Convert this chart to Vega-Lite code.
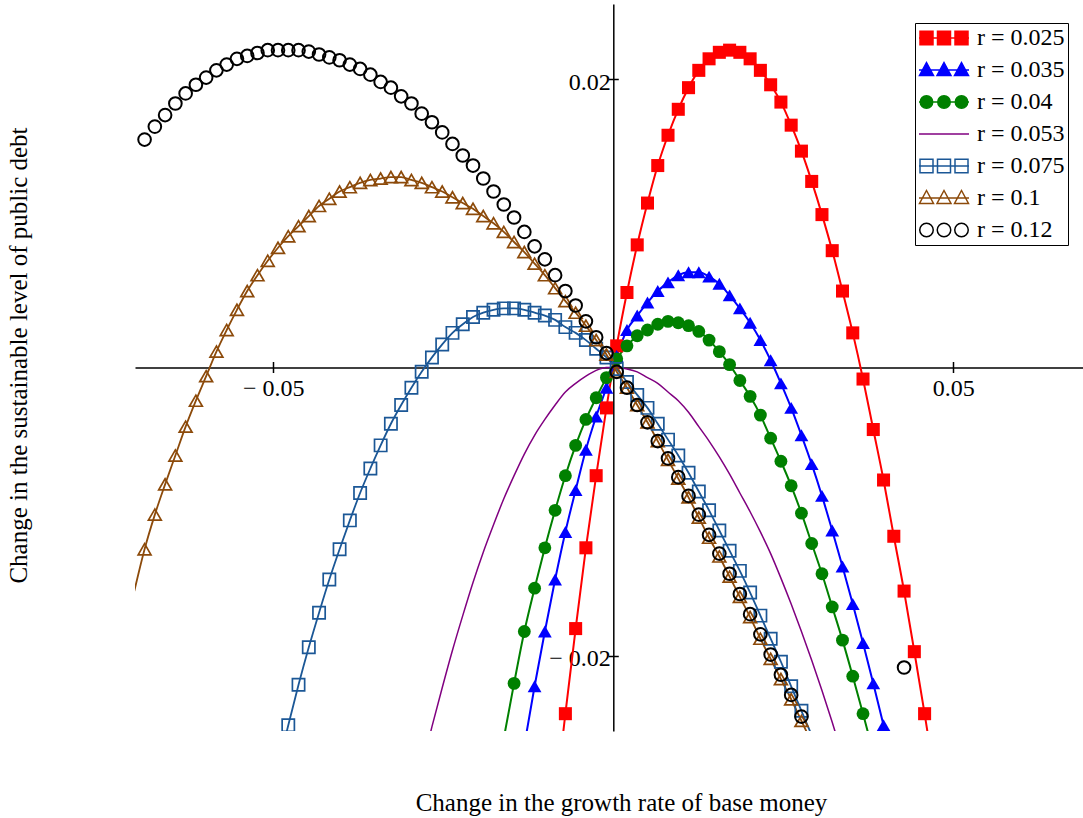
{
"$schema": "https://vega.github.io/schema/vega-lite/v6.json",
"width": 948, "height": 727,
"autosize": {"type": "none"},
"padding": {"left": 135, "top": 4, "right": 0, "bottom": 87},
"background": "white",
"config": {"view": {"stroke": null}, "font": "Liberation Serif"},
"resolve": {"axis": {"x": "independent", "y": "independent"}},
"data": {"values": [
{"r":"r = 0.025","x":-0.0085,"y":-0.0302},{"r":"r = 0.025","x":-0.007,"y":-0.024},{"r":"r = 0.025","x":-0.0055,"y":-0.0181},{"r":"r = 0.025","x":-0.004,"y":-0.0125},{"r":"r = 0.025","x":-0.0025,"y":-0.0075},{"r":"r = 0.025","x":-0.001,"y":-0.0028},{"r":"r = 0.025","x":0.0005,"y":0.0015},{"r":"r = 0.025","x":0.002,"y":0.0052},{"r":"r = 0.025","x":0.0035,"y":0.0085},{"r":"r = 0.025","x":0.005,"y":0.0114},{"r":"r = 0.025","x":0.0065,"y":0.014},{"r":"r = 0.025","x":0.008,"y":0.0161},{"r":"r = 0.025","x":0.0095,"y":0.0179},{"r":"r = 0.025","x":0.011,"y":0.0194},{"r":"r = 0.025","x":0.0125,"y":0.0206},{"r":"r = 0.025","x":0.014,"y":0.0214},{"r":"r = 0.025","x":0.0155,"y":0.02185},{"r":"r = 0.025","x":0.017,"y":0.022},{"r":"r = 0.025","x":0.0185,"y":0.02185},{"r":"r = 0.025","x":0.02,"y":0.0214},{"r":"r = 0.025","x":0.0215,"y":0.0206},{"r":"r = 0.025","x":0.023,"y":0.0196},{"r":"r = 0.025","x":0.0245,"y":0.0184},{"r":"r = 0.025","x":0.026,"y":0.0168},{"r":"r = 0.025","x":0.0275,"y":0.015},{"r":"r = 0.025","x":0.029,"y":0.0129},{"r":"r = 0.025","x":0.0305,"y":0.0106},{"r":"r = 0.025","x":0.032,"y":0.0081},{"r":"r = 0.025","x":0.0335,"y":0.0053},{"r":"r = 0.025","x":0.035,"y":0.0024},{"r":"r = 0.025","x":0.0365,"y":-0.0008},{"r":"r = 0.025","x":0.038,"y":-0.0043},{"r":"r = 0.025","x":0.0395,"y":-0.0078},{"r":"r = 0.025","x":0.041,"y":-0.0117},{"r":"r = 0.025","x":0.0425,"y":-0.0155},{"r":"r = 0.025","x":0.044,"y":-0.0197},{"r":"r = 0.025","x":0.0455,"y":-0.024},{"r":"r = 0.025","x":0.047,"y":-0.0285},
{"r":"r = 0.035","x":-0.013,"y":-0.0262},{"r":"r = 0.035","x":-0.0115,"y":-0.0221},{"r":"r = 0.035","x":-0.01,"y":-0.0183},{"r":"r = 0.035","x":-0.0085,"y":-0.0147},{"r":"r = 0.035","x":-0.007,"y":-0.0114},{"r":"r = 0.035","x":-0.0055,"y":-0.0085},{"r":"r = 0.035","x":-0.004,"y":-0.0057},{"r":"r = 0.035","x":-0.0025,"y":-0.0034},{"r":"r = 0.035","x":-0.001,"y":-0.0014},{"r":"r = 0.035","x":0.0005,"y":0.0008},{"r":"r = 0.035","x":0.002,"y":0.0026},{"r":"r = 0.035","x":0.0035,"y":0.0036},{"r":"r = 0.035","x":0.005,"y":0.0045},{"r":"r = 0.035","x":0.0065,"y":0.0053},{"r":"r = 0.035","x":0.008,"y":0.0059},{"r":"r = 0.035","x":0.0095,"y":0.0064},{"r":"r = 0.035","x":0.011,"y":0.0066},{"r":"r = 0.035","x":0.0125,"y":0.0066},{"r":"r = 0.035","x":0.014,"y":0.0063},{"r":"r = 0.035","x":0.0155,"y":0.0058},{"r":"r = 0.035","x":0.017,"y":0.005},{"r":"r = 0.035","x":0.0185,"y":0.0041},{"r":"r = 0.035","x":0.02,"y":0.0031},{"r":"r = 0.035","x":0.0215,"y":0.0019},{"r":"r = 0.035","x":0.023,"y":0.0005},{"r":"r = 0.035","x":0.0245,"y":-0.0011},{"r":"r = 0.035","x":0.026,"y":-0.0028},{"r":"r = 0.035","x":0.0275,"y":-0.0047},{"r":"r = 0.035","x":0.029,"y":-0.0067},{"r":"r = 0.035","x":0.0305,"y":-0.0089},{"r":"r = 0.035","x":0.032,"y":-0.0113},{"r":"r = 0.035","x":0.0335,"y":-0.0138},{"r":"r = 0.035","x":0.035,"y":-0.0164},{"r":"r = 0.035","x":0.0365,"y":-0.0191},{"r":"r = 0.035","x":0.038,"y":-0.0219},{"r":"r = 0.035","x":0.0395,"y":-0.0248},{"r":"r = 0.035","x":0.041,"y":-0.0278},
{"r":"r = 0.04","x":-0.016,"y":-0.0257},{"r":"r = 0.04","x":-0.0145,"y":-0.0219},{"r":"r = 0.04","x":-0.013,"y":-0.0183},{"r":"r = 0.04","x":-0.0115,"y":-0.0153},{"r":"r = 0.04","x":-0.01,"y":-0.0125},{"r":"r = 0.04","x":-0.0085,"y":-0.0099},{"r":"r = 0.04","x":-0.007,"y":-0.0075},{"r":"r = 0.04","x":-0.0055,"y":-0.0054},{"r":"r = 0.04","x":-0.004,"y":-0.0036},{"r":"r = 0.04","x":-0.0025,"y":-0.0021},{"r":"r = 0.04","x":-0.001,"y":-0.0007},{"r":"r = 0.04","x":0.0005,"y":0.0006},{"r":"r = 0.04","x":0.002,"y":0.0015},{"r":"r = 0.04","x":0.0035,"y":0.0022},{"r":"r = 0.04","x":0.005,"y":0.0026},{"r":"r = 0.04","x":0.0065,"y":0.003},{"r":"r = 0.04","x":0.008,"y":0.0032},{"r":"r = 0.04","x":0.0095,"y":0.0031},{"r":"r = 0.04","x":0.011,"y":0.0029},{"r":"r = 0.04","x":0.0125,"y":0.0025},{"r":"r = 0.04","x":0.014,"y":0.0019},{"r":"r = 0.04","x":0.0155,"y":0.0011},{"r":"r = 0.04","x":0.017,"y":0.0002},{"r":"r = 0.04","x":0.0185,"y":-0.0009},{"r":"r = 0.04","x":0.02,"y":-0.002},{"r":"r = 0.04","x":0.0215,"y":-0.0033},{"r":"r = 0.04","x":0.023,"y":-0.0049},{"r":"r = 0.04","x":0.0245,"y":-0.0065},{"r":"r = 0.04","x":0.026,"y":-0.0082},{"r":"r = 0.04","x":0.0275,"y":-0.0101},{"r":"r = 0.04","x":0.029,"y":-0.0122},{"r":"r = 0.04","x":0.0305,"y":-0.0143},{"r":"r = 0.04","x":0.032,"y":-0.0166},{"r":"r = 0.04","x":0.0335,"y":-0.0189},{"r":"r = 0.04","x":0.035,"y":-0.0214},{"r":"r = 0.04","x":0.0365,"y":-0.024},{"r":"r = 0.04","x":0.038,"y":-0.0267},
{"r":"r = 0.053","x":-0.028,"y":-0.0278},{"r":"r = 0.053","x":-0.0265,"y":-0.0249},{"r":"r = 0.053","x":-0.025,"y":-0.0222},{"r":"r = 0.053","x":-0.0235,"y":-0.0196},{"r":"r = 0.053","x":-0.022,"y":-0.0172},{"r":"r = 0.053","x":-0.0205,"y":-0.0149},{"r":"r = 0.053","x":-0.019,"y":-0.0128},{"r":"r = 0.053","x":-0.0175,"y":-0.0109},{"r":"r = 0.053","x":-0.016,"y":-0.0091},{"r":"r = 0.053","x":-0.0145,"y":-0.0075},{"r":"r = 0.053","x":-0.013,"y":-0.006},{"r":"r = 0.053","x":-0.0115,"y":-0.0047},{"r":"r = 0.053","x":-0.01,"y":-0.0036},{"r":"r = 0.053","x":-0.0085,"y":-0.0026},{"r":"r = 0.053","x":-0.007,"y":-0.0017},{"r":"r = 0.053","x":-0.0055,"y":-0.0011},{"r":"r = 0.053","x":-0.004,"y":-0.0006},{"r":"r = 0.053","x":-0.0025,"y":-0.0002},{"r":"r = 0.053","x":-0.001,"y":0.0},{"r":"r = 0.053","x":0.0005,"y":0.0},{"r":"r = 0.053","x":0.002,"y":-0.0001},{"r":"r = 0.053","x":0.0035,"y":-0.0003},{"r":"r = 0.053","x":0.005,"y":-0.0007},{"r":"r = 0.053","x":0.0065,"y":-0.0011},{"r":"r = 0.053","x":0.008,"y":-0.0017},{"r":"r = 0.053","x":0.0095,"y":-0.0023},{"r":"r = 0.053","x":0.011,"y":-0.0031},{"r":"r = 0.053","x":0.0125,"y":-0.0041},{"r":"r = 0.053","x":0.014,"y":-0.0051},{"r":"r = 0.053","x":0.0155,"y":-0.0062},{"r":"r = 0.053","x":0.017,"y":-0.0074},{"r":"r = 0.053","x":0.0185,"y":-0.0087},{"r":"r = 0.053","x":0.02,"y":-0.01},{"r":"r = 0.053","x":0.0215,"y":-0.0114},{"r":"r = 0.053","x":0.023,"y":-0.0129},{"r":"r = 0.053","x":0.0245,"y":-0.0146},{"r":"r = 0.053","x":0.026,"y":-0.0164},{"r":"r = 0.053","x":0.0275,"y":-0.0183},{"r":"r = 0.053","x":0.029,"y":-0.0203},{"r":"r = 0.053","x":0.0305,"y":-0.0224},{"r":"r = 0.053","x":0.032,"y":-0.0246},{"r":"r = 0.053","x":0.0335,"y":-0.0269},
{"r":"r = 0.075","x":-0.049,"y":-0.0277},{"r":"r = 0.075","x":-0.0475,"y":-0.0248},{"r":"r = 0.075","x":-0.046,"y":-0.022},{"r":"r = 0.075","x":-0.0445,"y":-0.0194},{"r":"r = 0.075","x":-0.043,"y":-0.017},{"r":"r = 0.075","x":-0.0415,"y":-0.0147},{"r":"r = 0.075","x":-0.04,"y":-0.0126},{"r":"r = 0.075","x":-0.0385,"y":-0.0106},{"r":"r = 0.075","x":-0.037,"y":-0.0087},{"r":"r = 0.075","x":-0.0355,"y":-0.007},{"r":"r = 0.075","x":-0.034,"y":-0.0054},{"r":"r = 0.075","x":-0.0325,"y":-0.0039},{"r":"r = 0.075","x":-0.031,"y":-0.0026},{"r":"r = 0.075","x":-0.0295,"y":-0.0014},{"r":"r = 0.075","x":-0.028,"y":-0.0003},{"r":"r = 0.075","x":-0.0265,"y":0.0007},{"r":"r = 0.075","x":-0.025,"y":0.0016},{"r":"r = 0.075","x":-0.0235,"y":0.0024},{"r":"r = 0.075","x":-0.022,"y":0.003},{"r":"r = 0.075","x":-0.0205,"y":0.0035},{"r":"r = 0.075","x":-0.019,"y":0.0038},{"r":"r = 0.075","x":-0.0175,"y":0.004},{"r":"r = 0.075","x":-0.016,"y":0.0041},{"r":"r = 0.075","x":-0.0145,"y":0.0041},{"r":"r = 0.075","x":-0.013,"y":0.004},{"r":"r = 0.075","x":-0.0115,"y":0.0038},{"r":"r = 0.075","x":-0.01,"y":0.0036},{"r":"r = 0.075","x":-0.0085,"y":0.0033},{"r":"r = 0.075","x":-0.007,"y":0.0028},{"r":"r = 0.075","x":-0.0055,"y":0.0024},{"r":"r = 0.075","x":-0.004,"y":0.0019},{"r":"r = 0.075","x":-0.0025,"y":0.0013},{"r":"r = 0.075","x":-0.001,"y":0.0007},{"r":"r = 0.075","x":0.0005,"y":-0.0001},{"r":"r = 0.075","x":0.002,"y":-0.001},{"r":"r = 0.075","x":0.0035,"y":-0.0019},{"r":"r = 0.075","x":0.005,"y":-0.0028},{"r":"r = 0.075","x":0.0065,"y":-0.0039},{"r":"r = 0.075","x":0.008,"y":-0.005},{"r":"r = 0.075","x":0.0095,"y":-0.0061},{"r":"r = 0.075","x":0.011,"y":-0.0073},{"r":"r = 0.075","x":0.0125,"y":-0.0086},{"r":"r = 0.075","x":0.014,"y":-0.0099},{"r":"r = 0.075","x":0.0155,"y":-0.0113},{"r":"r = 0.075","x":0.017,"y":-0.0127},{"r":"r = 0.075","x":0.0185,"y":-0.0141},{"r":"r = 0.075","x":0.02,"y":-0.0156},{"r":"r = 0.075","x":0.0215,"y":-0.0172},{"r":"r = 0.075","x":0.023,"y":-0.0188},{"r":"r = 0.075","x":0.0245,"y":-0.0204},{"r":"r = 0.075","x":0.026,"y":-0.0221},{"r":"r = 0.075","x":0.0275,"y":-0.0238},{"r":"r = 0.075","x":0.029,"y":-0.0255},
{"r":"r = 0.1","x":-0.07,"y":-0.0155},{"r":"r = 0.1","x":-0.0685,"y":-0.0126},{"r":"r = 0.1","x":-0.067,"y":-0.0102},{"r":"r = 0.1","x":-0.0655,"y":-0.0081},{"r":"r = 0.1","x":-0.064,"y":-0.0061},{"r":"r = 0.1","x":-0.0625,"y":-0.0041},{"r":"r = 0.1","x":-0.061,"y":-0.0023},{"r":"r = 0.1","x":-0.0595,"y":-0.0006},{"r":"r = 0.1","x":-0.058,"y":0.0011},{"r":"r = 0.1","x":-0.0565,"y":0.0026},{"r":"r = 0.1","x":-0.055,"y":0.004},{"r":"r = 0.1","x":-0.0535,"y":0.0053},{"r":"r = 0.1","x":-0.052,"y":0.0064},{"r":"r = 0.1","x":-0.0505,"y":0.0074},{"r":"r = 0.1","x":-0.049,"y":0.0083},{"r":"r = 0.1","x":-0.0475,"y":0.0091},{"r":"r = 0.1","x":-0.046,"y":0.0098},{"r":"r = 0.1","x":-0.0445,"y":0.0105},{"r":"r = 0.1","x":-0.043,"y":0.0112},{"r":"r = 0.1","x":-0.0415,"y":0.0117},{"r":"r = 0.1","x":-0.04,"y":0.0122},{"r":"r = 0.1","x":-0.0385,"y":0.0125},{"r":"r = 0.1","x":-0.037,"y":0.0128},{"r":"r = 0.1","x":-0.0355,"y":0.013},{"r":"r = 0.1","x":-0.034,"y":0.0131},{"r":"r = 0.1","x":-0.0325,"y":0.0132},{"r":"r = 0.1","x":-0.031,"y":0.0132},{"r":"r = 0.1","x":-0.0295,"y":0.013},{"r":"r = 0.1","x":-0.028,"y":0.0128},{"r":"r = 0.1","x":-0.0265,"y":0.0125},{"r":"r = 0.1","x":-0.025,"y":0.0122},{"r":"r = 0.1","x":-0.0235,"y":0.0118},{"r":"r = 0.1","x":-0.022,"y":0.0114},{"r":"r = 0.1","x":-0.0205,"y":0.011},{"r":"r = 0.1","x":-0.019,"y":0.0105},{"r":"r = 0.1","x":-0.0175,"y":0.01},{"r":"r = 0.1","x":-0.016,"y":0.0094},{"r":"r = 0.1","x":-0.0145,"y":0.0087},{"r":"r = 0.1","x":-0.013,"y":0.008},{"r":"r = 0.1","x":-0.0115,"y":0.0072},{"r":"r = 0.1","x":-0.01,"y":0.0064},{"r":"r = 0.1","x":-0.0085,"y":0.0055},{"r":"r = 0.1","x":-0.007,"y":0.0046},{"r":"r = 0.1","x":-0.0055,"y":0.0038},{"r":"r = 0.1","x":-0.004,"y":0.0029},{"r":"r = 0.1","x":-0.0025,"y":0.0019},{"r":"r = 0.1","x":-0.001,"y":0.0009},{"r":"r = 0.1","x":0.0005,"y":-0.0003},{"r":"r = 0.1","x":0.002,"y":-0.0014},{"r":"r = 0.1","x":0.0035,"y":-0.0026},{"r":"r = 0.1","x":0.005,"y":-0.0038},{"r":"r = 0.1","x":0.0065,"y":-0.0051},{"r":"r = 0.1","x":0.008,"y":-0.0064},{"r":"r = 0.1","x":0.0095,"y":-0.0077},{"r":"r = 0.1","x":0.011,"y":-0.009},{"r":"r = 0.1","x":0.0125,"y":-0.0104},{"r":"r = 0.1","x":0.014,"y":-0.0118},{"r":"r = 0.1","x":0.0155,"y":-0.0131},{"r":"r = 0.1","x":0.017,"y":-0.0145},{"r":"r = 0.1","x":0.0185,"y":-0.0159},{"r":"r = 0.1","x":0.02,"y":-0.0173},{"r":"r = 0.1","x":0.0215,"y":-0.0188},{"r":"r = 0.1","x":0.023,"y":-0.0202},{"r":"r = 0.1","x":0.0245,"y":-0.0216},{"r":"r = 0.1","x":0.026,"y":-0.023},{"r":"r = 0.1","x":0.0275,"y":-0.0245},{"r":"r = 0.1","x":0.029,"y":-0.026},
{"r":"r = 0.12","x":-0.0685,"y":0.0158},{"r":"r = 0.12","x":-0.067,"y":0.0167},{"r":"r = 0.12","x":-0.0655,"y":0.0175},{"r":"r = 0.12","x":-0.064,"y":0.0183},{"r":"r = 0.12","x":-0.0625,"y":0.019},{"r":"r = 0.12","x":-0.061,"y":0.0196},{"r":"r = 0.12","x":-0.0595,"y":0.0201},{"r":"r = 0.12","x":-0.058,"y":0.0206},{"r":"r = 0.12","x":-0.0565,"y":0.021},{"r":"r = 0.12","x":-0.055,"y":0.0214},{"r":"r = 0.12","x":-0.0535,"y":0.0216},{"r":"r = 0.12","x":-0.052,"y":0.0218},{"r":"r = 0.12","x":-0.0505,"y":0.022},{"r":"r = 0.12","x":-0.049,"y":0.022},{"r":"r = 0.12","x":-0.0475,"y":0.022},{"r":"r = 0.12","x":-0.046,"y":0.022},{"r":"r = 0.12","x":-0.0445,"y":0.0219},{"r":"r = 0.12","x":-0.043,"y":0.0217},{"r":"r = 0.12","x":-0.0415,"y":0.0215},{"r":"r = 0.12","x":-0.04,"y":0.0213},{"r":"r = 0.12","x":-0.0385,"y":0.021},{"r":"r = 0.12","x":-0.037,"y":0.0207},{"r":"r = 0.12","x":-0.0355,"y":0.0203},{"r":"r = 0.12","x":-0.034,"y":0.0198},{"r":"r = 0.12","x":-0.0325,"y":0.0194},{"r":"r = 0.12","x":-0.031,"y":0.0188},{"r":"r = 0.12","x":-0.0295,"y":0.0183},{"r":"r = 0.12","x":-0.028,"y":0.0176},{"r":"r = 0.12","x":-0.0265,"y":0.017},{"r":"r = 0.12","x":-0.025,"y":0.0163},{"r":"r = 0.12","x":-0.0235,"y":0.0155},{"r":"r = 0.12","x":-0.022,"y":0.0147},{"r":"r = 0.12","x":-0.0205,"y":0.014},{"r":"r = 0.12","x":-0.019,"y":0.0131},{"r":"r = 0.12","x":-0.0175,"y":0.0122},{"r":"r = 0.12","x":-0.016,"y":0.0113},{"r":"r = 0.12","x":-0.0145,"y":0.0104},{"r":"r = 0.12","x":-0.013,"y":0.0094},{"r":"r = 0.12","x":-0.0115,"y":0.0084},{"r":"r = 0.12","x":-0.01,"y":0.0075},{"r":"r = 0.12","x":-0.0085,"y":0.0064},{"r":"r = 0.12","x":-0.007,"y":0.0053},{"r":"r = 0.12","x":-0.0055,"y":0.0043},{"r":"r = 0.12","x":-0.004,"y":0.0032},{"r":"r = 0.12","x":-0.0025,"y":0.0021},{"r":"r = 0.12","x":-0.001,"y":0.001},{"r":"r = 0.12","x":0.0005,"y":-0.0003},{"r":"r = 0.12","x":0.002,"y":-0.0014},{"r":"r = 0.12","x":0.0035,"y":-0.0026},{"r":"r = 0.12","x":0.005,"y":-0.0038},{"r":"r = 0.12","x":0.0065,"y":-0.0051},{"r":"r = 0.12","x":0.008,"y":-0.0063},{"r":"r = 0.12","x":0.0095,"y":-0.0076},{"r":"r = 0.12","x":0.011,"y":-0.0089},{"r":"r = 0.12","x":0.0125,"y":-0.0102},{"r":"r = 0.12","x":0.014,"y":-0.0116},{"r":"r = 0.12","x":0.0155,"y":-0.0129},{"r":"r = 0.12","x":0.017,"y":-0.0143},{"r":"r = 0.12","x":0.0185,"y":-0.0157},{"r":"r = 0.12","x":0.02,"y":-0.0171},{"r":"r = 0.12","x":0.0215,"y":-0.0185},{"r":"r = 0.12","x":0.023,"y":-0.0199},{"r":"r = 0.12","x":0.0245,"y":-0.0213},{"r":"r = 0.12","x":0.026,"y":-0.0227},{"r":"r = 0.12","x":0.0275,"y":-0.0242},{"r":"r = 0.12","x":0.0425,"y":-0.0208}
]},
"layer": [
{"transform":[{"filter":"datum.r === 'r = 0.025'"}],
 "mark":{"type":"line","color":"#ff0000","strokeWidth":2,"interpolate":"monotone","clip":true},
 "encoding":{
  "x":{"field":"x","type":"quantitative","scale":{"domain":[-0.0699,0.06865],"nice":false,"zero":false},
   "axis":{"orient":"bottom","offset":-363.5,"values":[-0.0497,0.0497],"labelExpr":"datum.value < 0 ? '\u2212 ' + format(-datum.value, '.2f') : format(datum.value, '.2f')","title":null,"grid":false,"domain":true,"domainColor":"black","domainWidth":1.5,"ticks":true,"tickSize":5,"tickWidth":1.5,"tickColor":"black","labelFont":"Liberation Serif","labelFontSize":24,"labelColor":"black","labelPadding":4,"labelFlush":false,"labelOverlap":false,"labelBound":false}},
  "y":{"field":"y","type":"quantitative","scale":{"domain":[-0.0252,0.0252],"nice":false,"zero":false},
   "axis":{"orient":"left","offset":-478.3,"values":[-0.02,0.02],"labelExpr":"datum.value < 0 ? '\u2212 ' + format(-datum.value, '.2f') : format(datum.value, '.2f')","title":null,"grid":false,"domain":true,"domainColor":"black","domainWidth":1.5,"ticks":true,"tickSize":5,"tickWidth":1.5,"tickColor":"black","labelFont":"Liberation Serif","labelFontSize":24,"labelColor":"black","labelPadding":-2,"labelOffset":3,"labelFlush":false,"labelOverlap":false,"labelBound":false}}
 }},
{"transform":[{"filter":"datum.r === 'r = 0.035'"}],
 "mark":{"type":"line","color":"#0000ff","strokeWidth":2,"interpolate":"monotone","clip":true},
 "encoding":{
  "x":{"field":"x","type":"quantitative","scale":{"domain":[-0.0699,0.06865],"nice":false,"zero":false},
   "axis":{"orient":"top","offset":-363.5,"values":[-0.0497,0.0497],"labels":false,"domain":false,"ticks":true,"tickSize":6,"tickWidth":1.5,"tickColor":"black","title":null,"grid":false}},
  "y":{"field":"y","type":"quantitative","scale":{"domain":[-0.0252,0.0252],"nice":false,"zero":false},
   "axis":{"orient":"right","offset":-469.7,"values":[-0.02,0.02],"labels":false,"domain":false,"ticks":true,"tickSize":5,"tickWidth":1.5,"tickColor":"black","title":null,"grid":false}}
 }},
{"transform":[{"filter":"datum.r === 'r = 0.04'"}],
 "mark":{"type":"line","color":"#008000","strokeWidth":2,"interpolate":"monotone","clip":true},
 "encoding":{
  "x":{"field":"x","type":"quantitative","scale":{"domain":[-0.0699,0.06865],"nice":false,"zero":false},
   "axis":{"orient":"bottom","offset":0,"labels":false,"ticks":false,"domain":false,"grid":false,"title":"Change in the growth rate of base money","titleFont":"Liberation Serif","titleFontSize":25,"titleFontWeight":"normal","titleColor":"black","titleX":486,"titleY":79,"titleBaseline":"alphabetic","titleAlign":"center"}},
  "y":{"field":"y","type":"quantitative","scale":{"domain":[-0.0252,0.0252],"nice":false,"zero":false},
   "axis":{"orient":"left","offset":0,"labels":false,"ticks":false,"domain":false,"grid":false,"title":"Change in the sustainable level of public debt","titleFont":"Liberation Serif","titleFontSize":25,"titleFontWeight":"normal","titleColor":"black","titleX":-109,"titleY":351,"titleAngle":-90,"titleBaseline":"alphabetic","titleAlign":"center"}}
 }},
{"transform":[{"filter":"datum.r === 'r = 0.053'"}],
 "mark":{"type":"line","color":"#800080","strokeWidth":1.5,"interpolate":"monotone","clip":true},
 "encoding":{"x":{"field":"x","type":"quantitative","axis":null},"y":{"field":"y","type":"quantitative","axis":null}}},
{"transform":[{"filter":"datum.r === 'r = 0.075'"}],
 "mark":{"type":"line","color":"#1b5796","strokeWidth":1.8,"interpolate":"monotone","clip":true},
 "encoding":{"x":{"field":"x","type":"quantitative","axis":null},"y":{"field":"y","type":"quantitative","axis":null}}},
{"transform":[{"filter":"datum.r === 'r = 0.1'"}],
 "mark":{"type":"line","color":"#8c4a0a","strokeWidth":1.8,"interpolate":"monotone","clip":true},
 "encoding":{"x":{"field":"x","type":"quantitative","axis":null},"y":{"field":"y","type":"quantitative","axis":null}}},
{"transform":[{"filter":"datum.r === 'r = 0.025' && datum.x >= -0.0699 && datum.x <= 0.06865 && datum.y >= -0.0252 && datum.y <= 0.0252"}],
 "mark":{"type":"point","shape":"square","filled":true,"color":"#ff0000","size":170,"opacity":1,"clip":true},
 "encoding":{"x":{"field":"x","type":"quantitative","axis":null},"y":{"field":"y","type":"quantitative","axis":null}}},
{"transform":[{"filter":"datum.r === 'r = 0.035' && datum.x >= -0.0699 && datum.x <= 0.06865 && datum.y >= -0.0252 && datum.y <= 0.0252"}],
 "mark":{"type":"point","shape":"triangle-up","filled":true,"color":"#0000ff","size":190,"opacity":1,"clip":true},
 "encoding":{"x":{"field":"x","type":"quantitative","axis":null},"y":{"field":"y","type":"quantitative","axis":null}}},
{"transform":[{"filter":"datum.r === 'r = 0.04' && datum.x >= -0.0699 && datum.x <= 0.06865 && datum.y >= -0.0252 && datum.y <= 0.0252"}],
 "mark":{"type":"point","shape":"circle","filled":true,"color":"#008000","size":165,"opacity":1,"clip":true},
 "encoding":{"x":{"field":"x","type":"quantitative","axis":null},"y":{"field":"y","type":"quantitative","axis":null}}},
{"transform":[{"filter":"datum.r === 'r = 0.075' && datum.x >= -0.0699 && datum.x <= 0.06865 && datum.y >= -0.0252 && datum.y <= 0.0252"}],
 "mark":{"type":"point","shape":"square","filled":false,"color":"#1b5796","strokeWidth":1.7,"size":150,"opacity":1,"clip":true},
 "encoding":{"x":{"field":"x","type":"quantitative","axis":null},"y":{"field":"y","type":"quantitative","axis":null}}},
{"transform":[{"filter":"datum.r === 'r = 0.1' && datum.x >= -0.0699 && datum.x <= 0.06865 && datum.y >= -0.0252 && datum.y <= 0.0252"}],
 "mark":{"type":"point","shape":"triangle-up","filled":false,"color":"#8c4a0a","strokeWidth":1.7,"size":165,"opacity":1,"clip":true},
 "encoding":{"x":{"field":"x","type":"quantitative","axis":null},"y":{"field":"y","type":"quantitative","axis":null}}},
{"transform":[{"filter":"datum.r === 'r = 0.12' && datum.x >= -0.0699 && datum.x <= 0.06865 && datum.y >= -0.0252 && datum.y <= 0.0252"}],
 "mark":{"type":"point","shape":"circle","filled":false,"color":"#000000","strokeWidth":2,"size":160,"opacity":1,"clip":true},
 "encoding":{"x":{"field":"x","type":"quantitative","axis":null},"y":{"field":"y","type":"quantitative","axis":null}}},
{"transform":[{"filter":"false"}],
 "mark":{"type":"point","filled":false,"opacity":1},
 "encoding":{
  "x":{"field":"x","type":"quantitative","axis":null},
  "y":{"field":"y","type":"quantitative","axis":null},
  "shape":{"field":"r","type":"nominal",
   "scale":{"domain":["r = 0.025","r = 0.035","r = 0.04","r = 0.053","r = 0.075","r = 0.1","r = 0.12"],
    "range":["M-1,0L1,0M-0.96,-0.27L-0.44,-0.27L-0.44,0.27L-0.96,0.27ZM-0.26,-0.27L0.26,-0.27L0.26,0.27L-0.26,0.27ZM0.44,-0.27L0.96,-0.27L0.96,0.27L0.44,0.27Z",
     "M-1,0L1,0M-0.7,-0.3L-0.42,0.22L-0.98,0.22ZM0,-0.3L0.28,0.22L-0.28,0.22ZM0.7,-0.3L0.98,0.22L0.42,0.22Z",
     "M-1,0L1,0M-0.95,0A0.25,0.25,0,1,0,-0.45,0A0.25,0.25,0,1,0,-0.95,0ZM-0.25,0A0.25,0.25,0,1,0,0.25,0A0.25,0.25,0,1,0,-0.25,0ZM0.45,0A0.25,0.25,0,1,0,0.95,0A0.25,0.25,0,1,0,0.45,0Z",
     "M-1,0L1,0",
     "M-1,0L1,0M-0.96,-0.27L-0.44,-0.27L-0.44,0.27L-0.96,0.27ZM-0.26,-0.27L0.26,-0.27L0.26,0.27L-0.26,0.27ZM0.44,-0.27L0.96,-0.27L0.96,0.27L0.44,0.27Z",
     "M-1,0L1,0M-0.7,-0.3L-0.42,0.22L-0.98,0.22ZM0,-0.3L0.28,0.22L-0.28,0.22ZM0.7,-0.3L0.98,0.22L0.42,0.22Z",
     "M-0.97,0A0.27,0.27,0,1,0,-0.43,0A0.27,0.27,0,1,0,-0.97,0ZM-0.27,0A0.27,0.27,0,1,0,0.27,0A0.27,0.27,0,1,0,-0.27,0ZM0.43,0A0.27,0.27,0,1,0,0.97,0A0.27,0.27,0,1,0,0.43,0Z"]},
   "legend":{"title":null,"orient":"none","legendX":780,"legendY":19,"symbolSize":2500,"symbolStrokeWidth":1.5,"symbolOpacity":1,"symbolFillColor":"transparent","symbolStrokeColor":"black","labelFont":"Liberation Serif","labelFontSize":24,"labelColor":"black","labelOffset":7,"labelLimit":0,"labelExpr":"datum.label + '\u00a0\u2009'","clipHeight":24,"rowPadding":8,"padding":3,"strokeColor":"black","fillColor":"white"}},
  "stroke":{"field":"r","type":"nominal",
   "scale":{"domain":["r = 0.025","r = 0.035","r = 0.04","r = 0.053","r = 0.075","r = 0.1","r = 0.12"],"range":["#ff0000","#0000ff","#008000","#800080","#1b5796","#8c4a0a","#000000"]},
   "legend":{"title":null,"orient":"none","legendX":780,"legendY":19,"symbolSize":2500,"symbolStrokeWidth":1.5,"symbolOpacity":1,"symbolFillColor":"transparent","symbolStrokeColor":"black","labelFont":"Liberation Serif","labelFontSize":24,"labelColor":"black","labelOffset":7,"labelLimit":0,"labelExpr":"datum.label + '\u00a0\u2009'","clipHeight":24,"rowPadding":8,"padding":3,"strokeColor":"black","fillColor":"white"}},
  "fill":{"field":"r","type":"nominal",
   "scale":{"domain":["r = 0.025","r = 0.035","r = 0.04","r = 0.053","r = 0.075","r = 0.1","r = 0.12"],"range":["#ff0000","#0000ff","#008000","transparent","transparent","transparent","transparent"]},
   "legend":{"title":null,"orient":"none","legendX":780,"legendY":19,"symbolSize":2500,"symbolStrokeWidth":1.5,"symbolOpacity":1,"symbolFillColor":"transparent","symbolStrokeColor":"black","labelFont":"Liberation Serif","labelFontSize":24,"labelColor":"black","labelOffset":7,"labelLimit":0,"labelExpr":"datum.label + '\u00a0\u2009'","clipHeight":24,"rowPadding":8,"padding":3,"strokeColor":"black","fillColor":"white"}}
 }}
]
}
